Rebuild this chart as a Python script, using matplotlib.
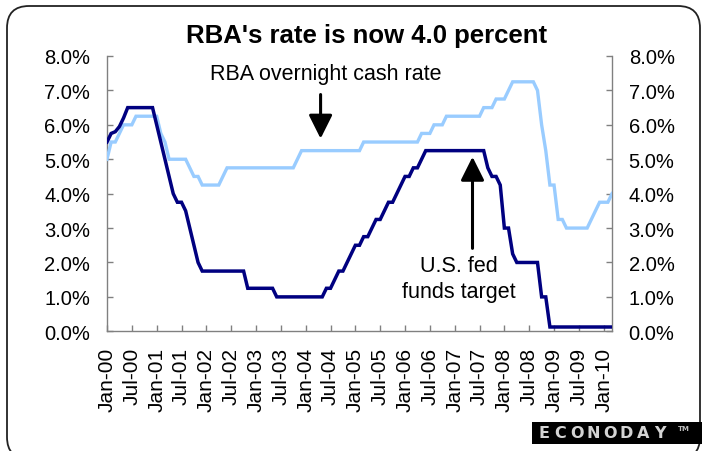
import numpy as np
import matplotlib
matplotlib.use("Agg")
import matplotlib.pyplot as plt
from matplotlib.patches import FancyBboxPatch, Rectangle
from matplotlib.transforms import IdentityTransform
from matplotlib.ticker import FuncFormatter

plt.rcParams['font.family'] = ['Liberation Sans', 'DejaVu Sans']

# monthly rates, Jan 2000 .. Mar 2010 (percent)
rba_2000 = [5.00, 5.50, 5.50, 5.75, 6.00, 6.00, 6.00, 6.25, 6.25, 6.25, 6.25, 6.25]
rba_2001 = [6.25, 5.75, 5.50, 5.00, 5.00, 5.00, 5.00, 5.00, 4.75, 4.50, 4.50, 4.25]
rba_2002 = [4.25, 4.25, 4.25, 4.25, 4.50, 4.75, 4.75, 4.75, 4.75, 4.75, 4.75, 4.75]
rba_2003 = [4.75, 4.75, 4.75, 4.75, 4.75, 4.75, 4.75, 4.75, 4.75, 4.75, 5.00, 5.25]
rba_2004 = [5.25, 5.25, 5.25, 5.25, 5.25, 5.25, 5.25, 5.25, 5.25, 5.25, 5.25, 5.25]
rba_2005 = [5.25, 5.25, 5.50, 5.50, 5.50, 5.50, 5.50, 5.50, 5.50, 5.50, 5.50, 5.50]
rba_2006 = [5.50, 5.50, 5.50, 5.50, 5.75, 5.75, 5.75, 6.00, 6.00, 6.00, 6.25, 6.25]
rba_2007 = [6.25, 6.25, 6.25, 6.25, 6.25, 6.25, 6.25, 6.50, 6.50, 6.50, 6.75, 6.75]
rba_2008 = [6.75, 7.00, 7.25, 7.25, 7.25, 7.25, 7.25, 7.25, 7.00, 6.00, 5.25, 4.25]
rba_2009 = [4.25, 3.25, 3.25, 3.00, 3.00, 3.00, 3.00, 3.00, 3.00, 3.25, 3.50, 3.75]
rba_2010 = [3.75, 3.75, 4.00]

fed_2000 = [5.50, 5.75, 5.80, 5.95, 6.20, 6.50, 6.50, 6.50, 6.50, 6.50, 6.50, 6.50]
fed_2001 = [6.00, 5.50, 5.00, 4.50, 4.00, 3.75, 3.75, 3.50, 3.00, 2.50, 2.00, 1.75]
fed_2002 = [1.75, 1.75, 1.75, 1.75, 1.75, 1.75, 1.75, 1.75, 1.75, 1.75, 1.25, 1.25]
fed_2003 = [1.25, 1.25, 1.25, 1.25, 1.25, 1.00, 1.00, 1.00, 1.00, 1.00, 1.00, 1.00]
fed_2004 = [1.00, 1.00, 1.00, 1.00, 1.00, 1.25, 1.25, 1.50, 1.75, 1.75, 2.00, 2.25]
fed_2005 = [2.50, 2.50, 2.75, 2.75, 3.00, 3.25, 3.25, 3.50, 3.75, 3.75, 4.00, 4.25]
fed_2006 = [4.50, 4.50, 4.75, 4.75, 5.00, 5.25, 5.25, 5.25, 5.25, 5.25, 5.25, 5.25]
fed_2007 = [5.25, 5.25, 5.25, 5.25, 5.25, 5.25, 5.25, 5.25, 4.75, 4.50, 4.50, 4.25]
fed_2008 = [3.00, 3.00, 2.25, 2.00, 2.00, 2.00, 2.00, 2.00, 2.00, 1.00, 1.00, 0.125]
fed_2009 = [0.125] * 12
fed_2010 = [0.125, 0.125, 0.125]

rba = np.array(rba_2000 + rba_2001 + rba_2002 + rba_2003 + rba_2004 + rba_2005
               + rba_2006 + rba_2007 + rba_2008 + rba_2009 + rba_2010)
fed = np.array(fed_2000 + fed_2001 + fed_2002 + fed_2003 + fed_2004 + fed_2005
               + fed_2006 + fed_2007 + fed_2008 + fed_2009 + fed_2010)
months = np.arange(len(rba))

tick_labels = ["Jan-00", "Jul-00", "Jan-01", "Jul-01", "Jan-02", "Jul-02", "Jan-03",
               "Jul-03", "Jan-04", "Jul-04", "Jan-05", "Jul-05", "Jan-06", "Jul-06",
               "Jan-07", "Jul-07", "Jan-08", "Jul-08", "Jan-09", "Jul-09", "Jan-10"]
tick_pos = np.arange(len(tick_labels)) * 6

W, H = 702, 452
fig = plt.figure(figsize=(W / 100, H / 100), dpi=100)
fig.patch.set_facecolor('white')

# rounded outer frame
frame = FancyBboxPatch((7, -8), 693, H - 7 + 8, boxstyle='round,pad=0,rounding_size=22',
                       transform=IdentityTransform(), facecolor='none',
                       edgecolor='#222222', linewidth=1.3)
fig.add_artist(frame)

ax = fig.add_axes([107 / W, 1 - 332.3 / H, (612 - 107) / W, (332.3 - 57) / H])
ax.plot(months, rba, color='#99CCFF', lw=2.4, solid_joinstyle='miter', zorder=3)
ax.plot(months, fed, color='#000080', lw=2.5, solid_joinstyle='miter', zorder=4)

ax.set_xlim(0, months[-1])
ax.set_ylim(0, 8)
ax.set_yticks(np.arange(0, 9, 1))
ax.yaxis.set_major_formatter(FuncFormatter(lambda v, p: f"{v:.1f}%"))
ax.set_xticks(tick_pos)
ax.set_xticklabels(tick_labels, rotation=90)

for side in ['left', 'right', 'bottom']:
    ax.spines[side].set_color('#808080')
    ax.spines[side].set_linewidth(1.0)
ax.spines['top'].set_visible(False)
ax.yaxis.set_ticks_position('both')
ax.tick_params(axis='y', direction='in', length=4.5, width=1, color='#808080',
               labelsize=14.5, pad=12, labelleft=True, labelright=True)
ax.tick_params(axis='x', direction='in', length=4.5, width=1, color='#808080',
               labelsize=15, pad=11)

fig.text(0.5228, 1 - 36 / H, "RBA's rate is now 4.0 percent", ha='center', va='center',
         fontsize=18.5, fontweight='bold')

# annotations
ax.text(52.8, 7.5, "RBA overnight cash rate", ha='center', va='center', fontsize=15.5)
ax.annotate('', xy=(51.6, 5.6), xytext=(51.6, 6.88),
            arrowprops=dict(arrowstyle='-|>,head_length=0.6,head_width=0.3', lw=2.2,
                            color='black', mutation_scale=24, shrinkA=0, shrinkB=0))
ax.text(85.0, 1.54, "U.S. fed\nfunds target", ha='center', va='center', fontsize=15.5,
        linespacing=1.3)
ax.annotate('', xy=(88.3, 5.07), xytext=(88.3, 2.41),
            arrowprops=dict(arrowstyle='-|>,head_length=0.6,head_width=0.3', lw=2.2,
                            color='black', mutation_scale=24, shrinkA=0, shrinkB=0))

# logo block
fig.add_artist(Rectangle((532, 7), 170, 22, transform=IdentityTransform(),
                         facecolor='black', edgecolor='none'))
for i, ch in enumerate("ECONODAY"):
    fig.text((543.5 + i * 16.6) / W, 18 / H, ch, ha='center', va='center',
             fontsize=11.5, fontweight='bold', family='DejaVu Sans', color='#d4d4d4')
fig.text(684 / W, 23 / H, "TM", ha='center', va='center', fontsize=5,
         fontweight='bold', family='DejaVu Sans', color='#bdbdbd')

fig.savefig("out.png", dpi=100)
